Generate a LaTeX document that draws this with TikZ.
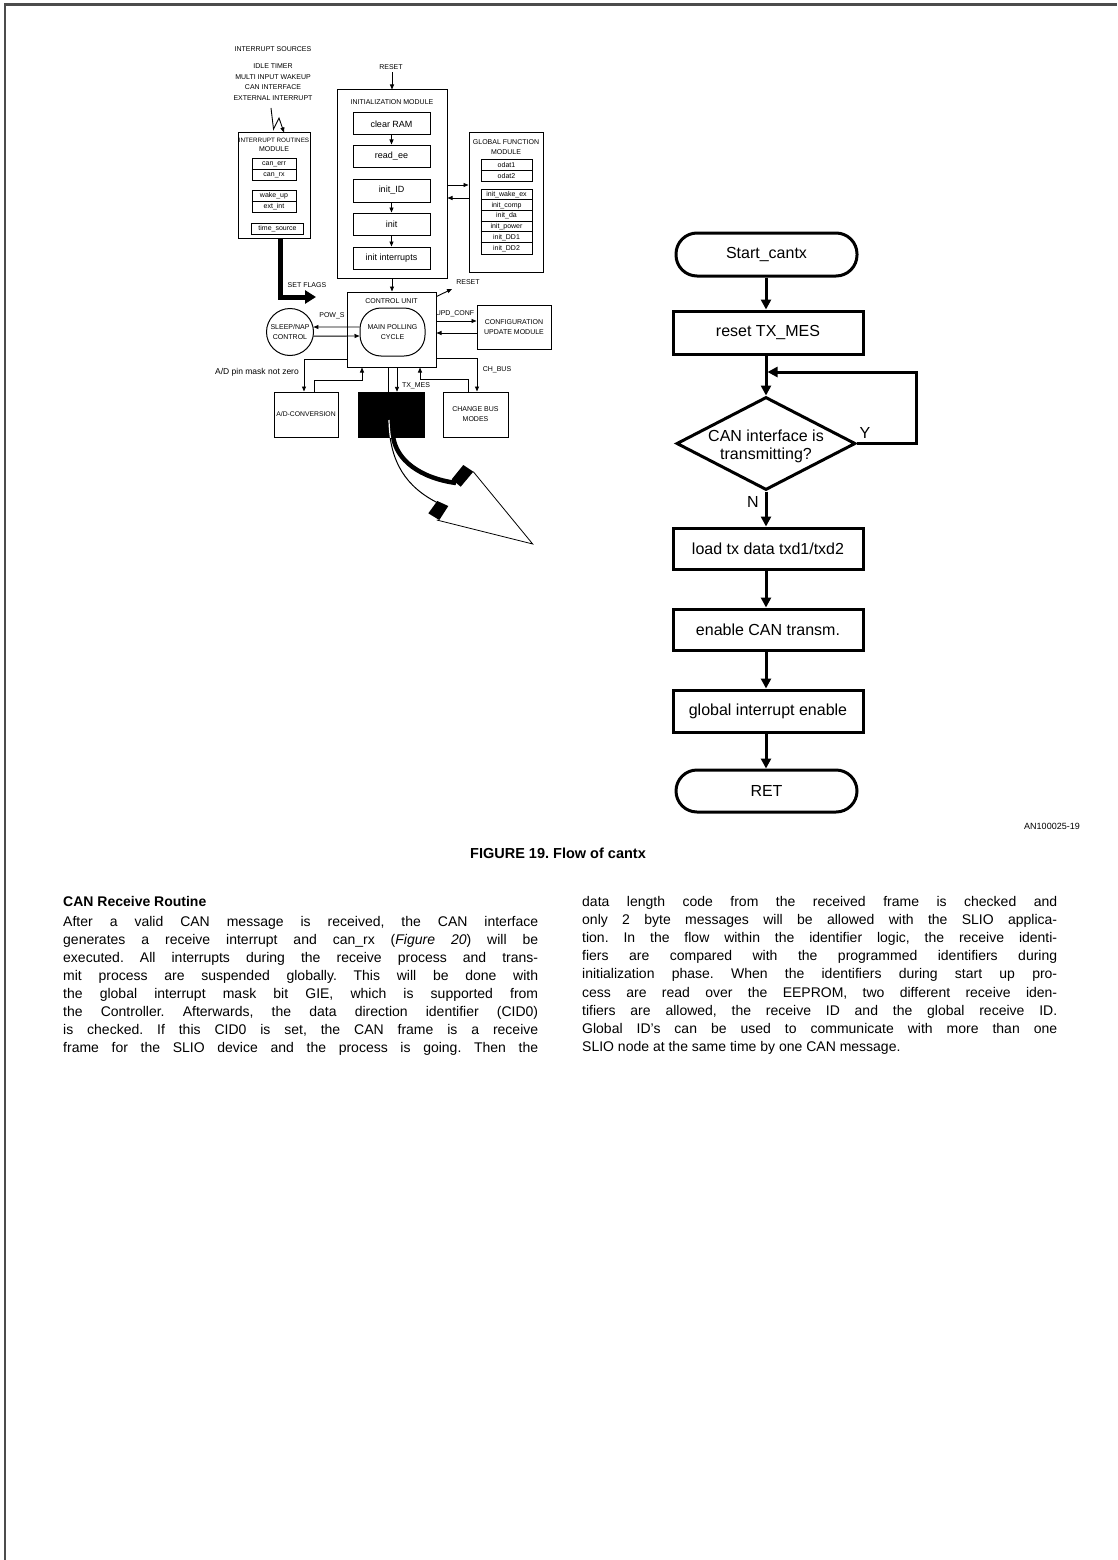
\documentclass[tikz,border=0pt]{standalone}
\usepackage{fontspec}
\setmainfont{Liberation Sans}
\usetikzlibrary{arrows.meta,shapes.geometric,calc}
\frenchspacing
\newcommand\dcap{\fontsize{7}{8.6}\selectfont}
\newcommand\dcaptwo{\fontsize{7}{10}\selectfont}
\newcommand\dlow{\fontsize{9}{10}\selectfont}
\newcommand\dsml{\fontsize{7}{8}\selectfont}
\newcommand\flw{\fontsize{16}{17.5}\selectfont}
\newcommand\bodyf{\fontsize{14}{18}\selectfont}
\newcommand\jl[1]{\makebox[475pt][s]{#1}}
\begin{document}
\begin{tikzpicture}[x=1pt,y=-1pt,
  thinl/.style={line width=0.9pt},
  dbox/.style={draw, line width=1pt, inner sep=0pt},
  ar/.style={-{Triangle[length=5pt,width=4pt]}, line width=0.9pt},
  fbox/.style={draw, line width=3pt, minimum width=190pt, minimum height=42pt, inner sep=0pt, font=\flw},
  fterm/.style={draw, line width=3pt, rounded corners=21pt, minimum width=181pt, minimum height=43pt, inner sep=0pt, font=\flw},
  far/.style={line width=3pt, -{Triangle[length=10pt,width=10pt]}},
  txt/.style={inner sep=0pt},
  bl/.style={anchor=base west, inner sep=0pt, font=\bodyf}
]
\useasboundingbox (0,0) rectangle (1117,1560);
\draw[line width=2.2pt, black!70] (5,1560) -- (5,4.5) -- (1117,4.5);

% ---------------- interrupt part
\node[txt,font=\dcap] (srct) at (273,49) {INTERRUPT SOURCES};
\node[txt,font={\fontsize{7}{10.7}\selectfont},align=center] (srcs) at (273,82) {IDLE TIMER\\MULTI INPUT WAKEUP\\CAN INTERFACE\\EXTERNAL INTERRUPT};
\node[dbox, minimum width=72pt, minimum height=105pt] (irm) at (274,185.5) {};
\coordinate (zz) at (271,108);
\draw[ar] (zz) -- (273.5,129) -- (279,118) -- (284,0 |- irm.north);
\node[txt,font={\fontsize{6.3}{8}\selectfont}] at (274,140) {INTERRUPT ROUTINES};
\node[txt,font=\dcap] at (274,149.5) {MODULE};
\node[dbox, minimum width=44pt, minimum height=22pt] (ce) at (274,169) {};
\draw[thinl] (ce.west) -- (ce.east);
\node[txt,font=\dsml] at (274,164) {can\_err};
\node[txt,font=\dsml] at (274,175) {can\_rx};
\node[dbox, minimum width=44pt, minimum height=22pt] (wk) at (274,201) {};
\draw[thinl] (wk.west) -- (wk.east);
\node[txt,font=\dsml] at (274,196) {wake\_up};
\node[txt,font=\dsml] at (274,207) {ext\_int};
\node[dbox, minimum width=52pt, minimum height=11pt, font=\dsml] (ts) at (277.5,228.5) {time\_source};
\coordinate (sf) at (316,297);
\draw[line width=5pt, -{Triangle[length=11pt,width=13pt]}] ([xshift=6pt]irm.south) |- (sf);
\node[txt,font=\dcap] at (307,285) {SET FLAGS};

% ---------------- initialization module
\node[txt,font=\dcap] (rst1) at (391,67) {RESET};
\node[dbox, minimum width=110pt, minimum height=188pt] (initm) at (392,184) {};
\draw[ar] ([yshift=-2.5pt]rst1.south -| initm.north) -- (initm.north);
\node[txt,font=\dcap] at (392,102) {INITIALIZATION MODULE};
\node[dbox, minimum width=77pt, minimum height=22pt, font=\dlow] (crm) at (391.5,124) {clear RAM};
\node[dbox, minimum width=77pt, minimum height=22pt, font=\dlow] (rdee) at (391.5,156) {read\_ee};
\node[dbox, minimum width=77pt, minimum height=23pt, font=\dlow] (iid) at (391.5,190.5) {init\_ID};
\node[dbox, minimum width=77pt, minimum height=22pt, font=\dlow] (ini) at (391.5,224) {init};
\node[dbox, minimum width=77pt, minimum height=22pt, font=\dlow] (iint) at (391.5,258) {init interrupts};
\draw[ar] (crm.south) -- (rdee.north);
\draw[ar] (iid.south) -- (ini.north);
\draw[ar] (ini.south) -- (iint.north);

% ---------------- global function module
\node[dbox, minimum width=74pt, minimum height=139pt] (glob) at (506,202.5) {};
\node[txt,font=\dcap] at (506,142) {GLOBAL FUNCTION};
\node[txt,font=\dcap] at (506,152) {MODULE};
\node[dbox, minimum width=51pt, minimum height=22pt] (od) at (506.5,170) {};
\draw[thinl] (od.west) -- (od.east);
\node[txt,font=\dsml] at (506.5,164.5) {odat1};
\node[txt,font=\dsml] at (506.5,175.5) {odat2};
\node[dbox, minimum width=51pt, minimum height=65pt] (grp) at (506.5,221.5) {};
\foreach \i in {1,...,5} \draw[thinl] ([yshift=-\i*10.83pt]grp.north west) -- ([yshift=-\i*10.83pt]grp.north east);
\foreach \t [count=\k from 0] in {init\_wake\_ex, init\_comp, init\_da, init\_power, init\_DD1, init\_DD2}
  \node[txt,font=\dsml] at (506.5,194.4+10.83*\k) {\t};
\draw[ar] (initm.east |- 0,185) -- (glob.west |- 0,185);
\draw[ar] (glob.west |- 0,198) -- (initm.east |- 0,198);

% ---------------- control unit
\node[dbox, minimum width=89pt, minimum height=75pt] (ctrl) at (391.5,329.5) {};
\draw[ar] (initm.south) -- (initm.south |- ctrl.north);
\node[txt,font=\dcap] at (391.5,301) {CONTROL UNIT};
\node[draw, line width=1pt, rounded corners=21pt, minimum width=65pt, minimum height=48pt, inner sep=0pt, font=\dcaptwo, align=center] (mpc) at (392.5,332) {MAIN POLLING\\CYCLE};
\coordinate (rso) at (452,289);
\draw[ar] ([yshift=-5pt]ctrl.north east) -- (rso);
\node[txt,font=\dcap] at (468,282) {RESET};

\node[draw, circle, line width=1pt, minimum size=47pt, inner sep=0pt, font=\dcaptwo, align=center] (slp) at (290,332) {SLEEP/NAP\\CONTROL};
\draw[ar] ([yshift=5pt]mpc.west) -- (slp.12);
\draw[ar] (slp.-10) -- ([yshift=-4pt]mpc.west);
\node[txt,font=\dcap] at (332,316) {POW\_S};

\node[dbox, minimum width=74pt, minimum height=44pt, font=\dcaptwo, align=center] (cfg) at (514,327) {CONFIGURATION\\UPDATE MODULE};
\draw[ar] ([yshift=8.5pt]ctrl.east) -- ([yshift=6pt]cfg.west);
\draw[ar] ([yshift=-6pt]cfg.west) -- ([yshift=-3.5pt]ctrl.east);
\node[txt,font=\dcap] at (455,314) {UPD\_CONF};

\node[dbox, minimum width=65pt, minimum height=45pt, font=\dcaptwo, align=center] (chb) at (475.5,414.5) {CHANGE BUS\\MODES};
\draw[ar] ([yshift=-28.5pt]ctrl.east) -| ([xshift=1.5pt]chb.north);
\coordinate (cbr) at (420,379);
\draw[ar] ([xshift=-7.5pt]chb.north) |- (cbr) -- (cbr |- ctrl.south);
\node[txt,font=\dcap] at (497,370) {CH\_BUS};

\node[dbox, minimum width=64pt, minimum height=45pt, font={\fontsize{6.8}{8}\selectfont}] (ad) at (306,414.5) {A/D-CONVERSION};
\draw[ar] ([yshift=-29.5pt]ctrl.west) -| ([xshift=-2pt]ad.north);
\coordinate (adr) at (362,380);
\draw[ar] ([xshift=8pt]ad.north) |- (adr) -- (adr |- ctrl.south);
\node[txt,font={\fontsize{8.5}{10}\selectfont}, anchor=east] at (299,372) {A/D pin mask not zero};

% black box with curved arrow
\draw[line width=1pt] (389,423) .. controls (390,462) and (406,487) .. (438,503);
\draw[line width=4.5pt] (393,436) .. controls (396,460) and (420,478) .. (456,483);
\node[fill=black, draw, minimum width=66pt, minimum height=45pt, inner sep=0pt] (blk) at (391,414.5) {};
\begin{scope}
\clip (blk.north west) rectangle (blk.south east);
\draw[white, line width=1.2pt] (389,420) .. controls (390,462) and (406,487) .. (438,503);
\end{scope}
\draw[thinl] (388,0 |- ctrl.south) -- (388,0 |- blk.north);
\draw[ar] (397,0 |- ctrl.south) -- (397,0 |- blk.north);
\node[txt,font=\dcap] at (416,386) {TX\_MES};
\fill (451.7,479.3) -- (463.3,465) -- (473.3,471.7) -- (460.7,486.7) -- cycle;
\fill (428.3,513.3) -- (437.3,501) -- (448.3,506) -- (439.3,520) -- cycle;
\draw[line width=0.8pt] (473.3,471.7) -- (532.7,544) -- (436.7,520);

% ---------------- flowchart
\node[fterm] (st) at (766.5,254.5) {Start\_cantx};
\node[fbox, minimum height=43pt] (rt) at (768,332.5) {reset TX\_MES};
\node[draw, diamond, line width=3pt, minimum width=179pt, minimum height=93pt, inner sep=0pt] (dia) at (766,443.5) {};
\node[txt, font=\flw, align=center] at (766,446.5) {CAN interface is\\transmitting?};
\draw[far] (st.south -| dia.north) -- (dia.north |- rt.north);
\draw[far] (dia.north |- rt.south) -- (dia.north);
\coordinate (lp) at (916,372);
\draw[far] (dia.east) -| (lp) -- ([xshift=1.5pt]dia.north |- lp);
\node[txt, font=\flw] at (865,433) {Y};
\node[txt, font=\flw] at (753,502) {N};
\node[fbox, minimum height=41pt] (ld) at (768,548.5) {load tx data txd1/txd2};
\node[fbox, minimum height=41pt] (en) at (768,629.5) {enable CAN transm.};
\node[fbox, minimum height=42pt] (gi) at (768,711) {global interrupt enable};
\node[fterm, minimum height=42pt] (ret) at (766.5,791) {RET};
\draw[far] (dia.south) -- (dia.south |- ld.north);
\draw[far] (dia.south |- ld.south) -- (dia.south |- en.north);
\draw[far] (dia.south |- en.south) -- (dia.south |- gi.north);
\draw[far] (dia.south |- gi.south) -- (dia.south |- ret.north);

\node[txt, font={\fontsize{9}{10}\selectfont}] at (1052,826) {AN100025-19};
\node[txt, font={\fontsize{14.5}{16}\selectfont\bfseries}] at (558,853) {FIGURE 19. Flow of cantx};

% ---------------- body text
\node[bl, font=\bodyf\bfseries] at (63,906) {CAN Receive Routine};
\node[bl] at (63,926) {\jl{After a valid CAN message is received, the CAN interface}};
\node[bl] at (63,944) {\jl{generates a receive interrupt and can\_rx (\textit{Figure 20}) will be}};
\node[bl] at (63,962) {\jl{executed. All interrupts during the receive process and trans-}};
\node[bl] at (63,980) {\jl{mit process are suspended globally. This will be done with}};
\node[bl] at (63,998) {\jl{the global interrupt mask bit GIE, which is supported from}};
\node[bl] at (63,1016) {\jl{the Controller. Afterwards, the data direction identifier (CID0)}};
\node[bl] at (63,1034) {\jl{is checked. If this CID0 is set, the CAN frame is a receive}};
\node[bl] at (63,1052) {\jl{frame for the SLIO device and the process is going. Then the}};

\node[bl] at (582,906) {\jl{data length code from the received frame is checked and}};
\node[bl] at (582,924.2) {\jl{only 2 byte messages will be allowed with the SLIO applica-}};
\node[bl] at (582,942.4) {\jl{tion. In the flow within the identifier logic, the receive identi-}};
\node[bl] at (582,960.6) {\jl{fiers are compared with the programmed identifiers during}};
\node[bl] at (582,978.8) {\jl{initialization phase. When the identifiers during start up pro-}};
\node[bl] at (582,997) {\jl{cess are read over the EEPROM, two different receive iden-}};
\node[bl] at (582,1015.2) {\jl{tifiers are allowed, the receive ID and the global receive ID.}};
\node[bl] at (582,1033.4) {\jl{Global ID's can be used to communicate with more than one}};
\node[bl] at (582,1051.6) {SLIO node at the same time by one CAN message.};
\end{tikzpicture}
\end{document}
